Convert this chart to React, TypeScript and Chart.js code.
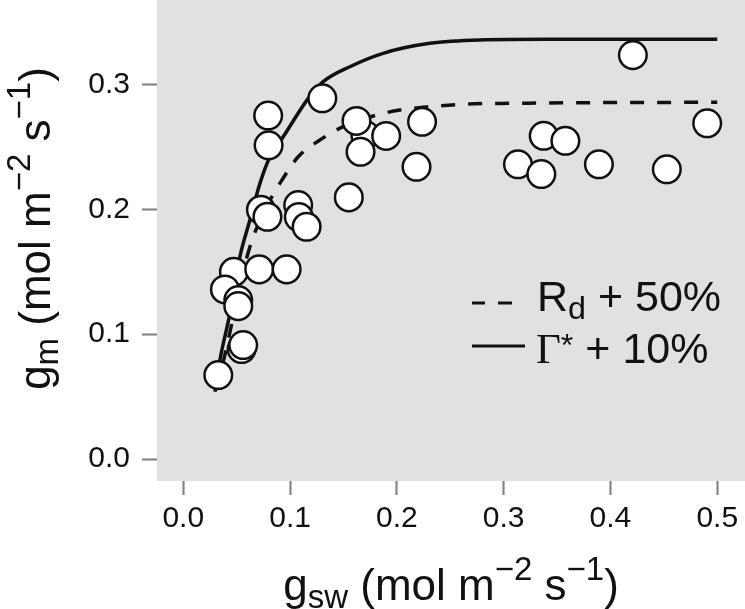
import React, { useEffect, useRef } from 'react';
import { Chart, registerables } from 'chart.js';

Chart.register(...registerables);

const W = 745;
const H = 609;

// Observed points: g_sw (x) and g_m (y)
const gswObs = [
  0.0795, 0.0799, 0.1302, 0.1705, 0.1622, 0.1900, 0.1660, 0.2236, 0.2184, 0.1550,
  0.0727, 0.0788, 0.1076, 0.1082, 0.1155, 0.0474, 0.0711, 0.0968, 0.0390, 0.0515,
  0.0515, 0.0546, 0.0561, 0.0328, 0.3375, 0.3578, 0.3134, 0.3353, 0.3892, 0.4528,
  0.4906, 0.4210,
];
const gmObs = [
  0.2750, 0.2512, 0.2888, 0.2595, 0.2707, 0.2587, 0.2460, 0.2700, 0.2340, 0.2095,
  0.1996, 0.1940, 0.2034, 0.1938, 0.1860, 0.1499, 0.1519, 0.1519, 0.1358, 0.1273,
  0.1225, 0.0881, 0.0913, 0.0673, 0.2588, 0.2548, 0.2360, 0.2282, 0.2360, 0.2320,
  0.2688, 0.3234,
];

// Model curve: Gamma* + 10% (solid)
const gammaX = [0.0297, 0.0343, 0.0437, 0.0530, 0.0624, 0.0718, 0.0812, 0.0936, 0.1170, 0.1310, 0.1560, 0.1871, 0.2308, 0.2776, 0.3400, 0.4200, 0.5000];
const gammaY = [0.0539, 0.0793, 0.1167, 0.1620, 0.1914, 0.2207, 0.2420, 0.2580, 0.2888, 0.3021, 0.3141, 0.3248, 0.3328, 0.3355, 0.3360, 0.3360, 0.3360];

// Model curve: Rd + 50% (dashed)
const rdX = [0.0313, 0.0421, 0.0521, 0.0624, 0.0764, 0.0905, 0.1076, 0.1279, 0.1497, 0.1810, 0.2028, 0.2309, 0.2652, 0.3088, 0.3712, 0.4300, 0.5000];
const rdY = [0.0552, 0.0953, 0.1353, 0.1700, 0.1994, 0.2207, 0.2420, 0.2554, 0.2661, 0.2754, 0.2794, 0.2821, 0.2842, 0.2848, 0.2853, 0.2855, 0.2856];

const xTickValues = [0, 0.1, 0.2, 0.3, 0.4, 0.5];
const yTickValues = [0, 0.1, 0.2, 0.3];

const SANS = '"Liberation Sans", Arial, Helvetica, sans-serif';
const SERIF = '"Liberation Serif", "Times New Roman", serif';

type Seg = { t: string; k?: 'sub' | 'sup' | 'small'; serif?: boolean };

const xTitleSegs: Seg[] = [
  { t: 'g' }, { t: 'sw', k: 'sub' }, { t: ' (mol m' }, { t: '\u22122', k: 'sup' },
  { t: ' s' }, { t: '\u22121', k: 'sup' }, { t: ')' },
];
const yTitleSegs: Seg[] = [
  { t: 'g' }, { t: 'm', k: 'sub' }, { t: ' (mol m' }, { t: '\u22122', k: 'sup' },
  { t: ' s' }, { t: '\u22121', k: 'sup' }, { t: ')' },
];
const legend1Segs: Seg[] = [{ t: 'R' }, { t: 'd', k: 'sub' }, { t: ' + 50%' }];
const legend2Segs: Seg[] = [{ t: '\u0393', serif: true }, { t: '*', k: 'small' }, { t: ' + 10%' }];

function segFont(seg: Seg, size: number) {
  const s = seg.k ? size * 0.75 : size;
  return `${s}px ${seg.serif ? SERIF : SANS}`;
}
function measureRich(ctx: CanvasRenderingContext2D, segs: Seg[], size: number) {
  let w = 0;
  for (const s of segs) {
    ctx.font = segFont(s, size);
    w += ctx.measureText(s.t).width;
  }
  return w;
}
function drawRich(ctx: CanvasRenderingContext2D, segs: Seg[], size: number, x: number, y: number) {
  let cx = x;
  ctx.textAlign = 'left';
  ctx.textBaseline = 'alphabetic';
  for (const s of segs) {
    ctx.font = segFont(s, size);
    const dy = s.k === 'sub' ? size * 0.18 : s.k === 'sup' ? -size * 0.45 : s.k === 'small' ? -size * 0.16 : 0;
    ctx.fillText(s.t, cx, y + dy);
    cx += ctx.measureText(s.t).width;
  }
}

const decorPlugin = {
  id: 'decor',
  beforeDraw(chart: any) {
    const { ctx, chartArea } = chart;
    ctx.save();
    ctx.fillStyle = '#ffffff';
    ctx.fillRect(0, 0, chart.width, chart.height);
    ctx.fillStyle = '#e0e1e3';
    ctx.fillRect(chartArea.left, chartArea.top, chartArea.right - chartArea.left, chartArea.bottom - chartArea.top);
    ctx.restore();
  },
  afterDraw(chart: any) {
    const { ctx, chartArea } = chart;
    ctx.save();
    ctx.fillStyle = '#111111';
    const titleSize = 44;
    // x title
    const xw = measureRich(ctx, xTitleSegs, titleSize);
    const xc = (chartArea.left + chartArea.right) / 2;
    drawRich(ctx, xTitleSegs, titleSize, xc - xw / 2, 600);
    // y title
    const yw = measureRich(ctx, yTitleSegs, titleSize);
    const yc = (chartArea.top + chartArea.bottom) / 2 - 12;
    ctx.save();
    ctx.translate(50, yc);
    ctx.rotate(-Math.PI / 2);
    drawRich(ctx, yTitleSegs, titleSize, -yw / 2, 0);
    ctx.restore();

    // legend
    const legSize = 43;
    ctx.strokeStyle = '#111111';
    ctx.lineWidth = 3;
    ctx.beginPath();
    ctx.moveTo(472, 303); ctx.lineTo(485, 303);
    ctx.moveTo(498, 303); ctx.lineTo(512, 303);
    ctx.moveTo(472, 346); ctx.lineTo(525, 346);
    ctx.stroke();
    drawRich(ctx, legend1Segs, legSize, 537, 311);
    drawRich(ctx, legend2Segs, legSize, 536, 363);
    ctx.restore();
  },
};

function zeroPad(s: any) {
  s.paddingTop = 0;
  s.paddingBottom = 0;
  s.paddingLeft = 0;
  s.paddingRight = 0;
}

export default function App() {
  const ref = useRef<HTMLCanvasElement | null>(null);
  useEffect(() => {
    if (!ref.current) return;
    const obs = gswObs.map((x, i) => ({ x, y: gmObs[i] }));
    const gam = gammaX.map((x, i) => ({ x, y: gammaY[i] }));
    const rd = rdX.map((x, i) => ({ x, y: rdY[i] }));
    const chart = new Chart(ref.current, {
      type: 'scatter',
      data: {
        datasets: [
          {
            label: 'obs',
            data: obs,
            order: 0,
            pointRadius: 13.8,
            pointBorderWidth: 2.5,
            pointBackgroundColor: '#ffffff',
            pointBorderColor: '#111111',
            showLine: false,
          },
          {
            label: 'Gamma* + 10%',
            data: gam,
            order: 2,
            showLine: true,
            pointRadius: 0,
            borderColor: '#111111',
            borderWidth: 3.5,
            cubicInterpolationMode: 'monotone',
          },
          {
            label: 'Rd + 50%',
            data: rd,
            order: 1,
            showLine: true,
            pointRadius: 0,
            borderColor: '#111111',
            borderWidth: 3.5,
            borderDash: [14, 13],
            cubicInterpolationMode: 'monotone',
          },
        ],
      } as any,
      options: {
        animation: false,
        responsive: false,
        devicePixelRatio: 1,
        layout: { padding: 0, autoPadding: false },
        clip: false,
        plugins: { legend: { display: false }, tooltip: { enabled: false } },
        events: [],
        scales: {
          x: {
            type: 'linear',
            min: -0.0246,
            max: 0.526,
            afterBuildTicks: (s: any) => { s.ticks = xTickValues.map((v) => ({ value: v })); },
            afterFit: (s: any) => { s.height = H - 481; zeroPad(s); },
            border: { display: false },
            grid: { drawOnChartArea: false, drawTicks: true, tickLength: 14, tickColor: '#858585', tickWidth: 2.2 },
            ticks: {
              padding: 6,
              color: '#111111',
              font: { family: SANS, size: 30 },
              maxRotation: 0,
              callback: (v: any) => Number(v).toFixed(1),
            },
          },
          y: {
            type: 'linear',
            min: -0.0175,
            max: 0.3675,
            afterBuildTicks: (s: any) => { s.ticks = yTickValues.map((v) => ({ value: v })); },
            afterFit: (s: any) => { s.width = 157; zeroPad(s); },
            border: { display: false },
            grid: { drawOnChartArea: false, drawTicks: true, tickLength: 15, tickColor: '#858585', tickWidth: 2.2 },
            ticks: {
              padding: 12,
              color: '#111111',
              font: { family: SANS, size: 30 },
              callback: (v: any) => Number(v).toFixed(1),
            },
          },
        },
      } as any,
      plugins: [decorPlugin],
    });
    return () => chart.destroy();
  }, []);
  return (
    <canvas
      ref={ref}
      width={W}
      height={H}
      style={{ position: 'absolute', left: 0, top: 0, width: W, height: H }}
    />
  );
}
